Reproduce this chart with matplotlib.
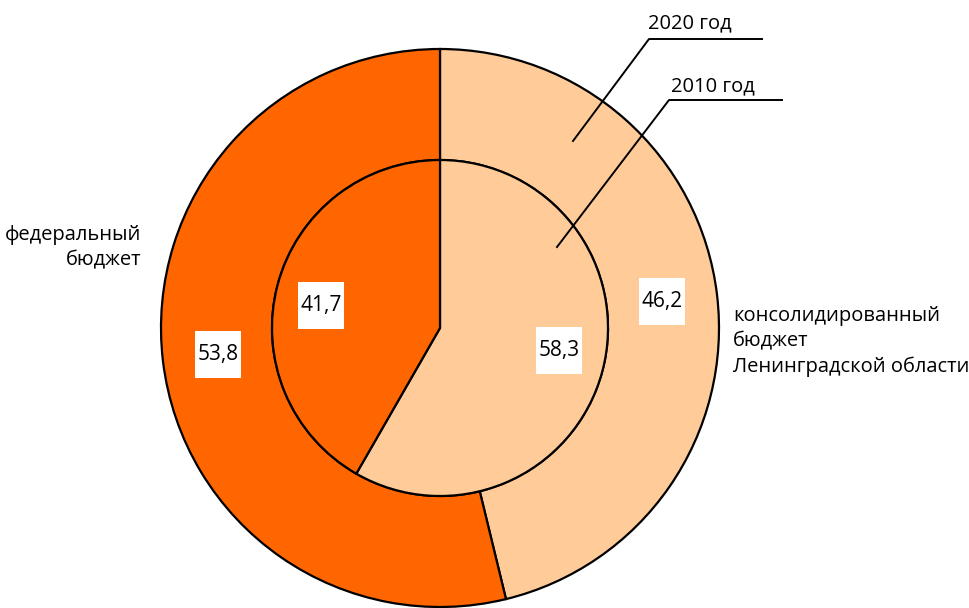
import matplotlib
matplotlib.use('Agg')

import numpy as np
import matplotlib.pyplot as plt
from matplotlib.patches import Rectangle

# data: shares of tax revenue, %
categories = ['консолидированный\nбюджет\nЛенинградской области', 'федеральный\nбюджет']
values_2020 = [46.2, 53.8]
values_2010 = [58.3, 41.7]
colors = ['#FFCC99', '#FF6600']

W, H = 969, 608


def py(y):
    # pixel row (from top) -> data y
    return H - y


fig = plt.figure(figsize=(W / 100, H / 100), dpi=100)
ax = fig.add_axes([0, 0, 1, 1])

cx, cy = 440, py(328)
r_out, r_in = 279, 168
edge = dict(edgecolor='black', linewidth=1.6)

ax.pie(values_2020, colors=colors, startangle=90, counterclock=False,
       center=(cx, cy), radius=r_out,
       wedgeprops=dict(width=r_out - r_in, **edge))
ax.pie(values_2010, colors=colors, startangle=90, counterclock=False,
       center=(cx, cy), radius=r_in, wedgeprops=edge)

ax.set_xlim(0, W)
ax.set_ylim(0, H)
ax.set_aspect('equal')
ax.axis('off')

font = 'Open Sans'
fs = 14.5


def fmt(v):
    return ('%.1f' % v).replace('.', ',')


def put_labels(vals, r, shift=0.0):
    start = 90.0
    for v in vals:
        span = v / sum(vals) * 360
        mid = np.radians(start - span / 2 + shift)
        x, y = cx + r * np.cos(mid), cy + r * np.sin(mid)
        ax.add_patch(Rectangle((x - 23, y - 23.5), 46, 47, fc='white',
                               ec='none', zorder=4))
        ax.text(x, y, fmt(v), ha='center', va='center', fontsize=15,
                family=font, zorder=5)
        start -= span


put_labels(values_2020, (r_out + r_in) / 2)
put_labels(values_2010, r_in * 0.72, shift=4)

# category labels
ax.text(141, py(265), categories[1], ha='right', va='baseline',
        fontsize=fs, family=font, linespacing=1.35)
ax.text(733, py(372), categories[0], ha='left', va='baseline',
        fontsize=fs, family=font, linespacing=1.35)

# leader lines for the rings
ax.plot([573, 649, 762], [py(141), py(39), py(39)], color='black', lw=1.4)
ax.plot([557, 669, 782], [py(247), py(100), py(100)], color='black', lw=1.4)
ax.text(648, py(28), '2020 год', ha='left', va='baseline',
        fontsize=fs, family=font)
ax.text(671, py(91), '2010 год', ha='left', va='baseline',
        fontsize=fs, family=font)

fig.savefig('out.png', dpi=100)
